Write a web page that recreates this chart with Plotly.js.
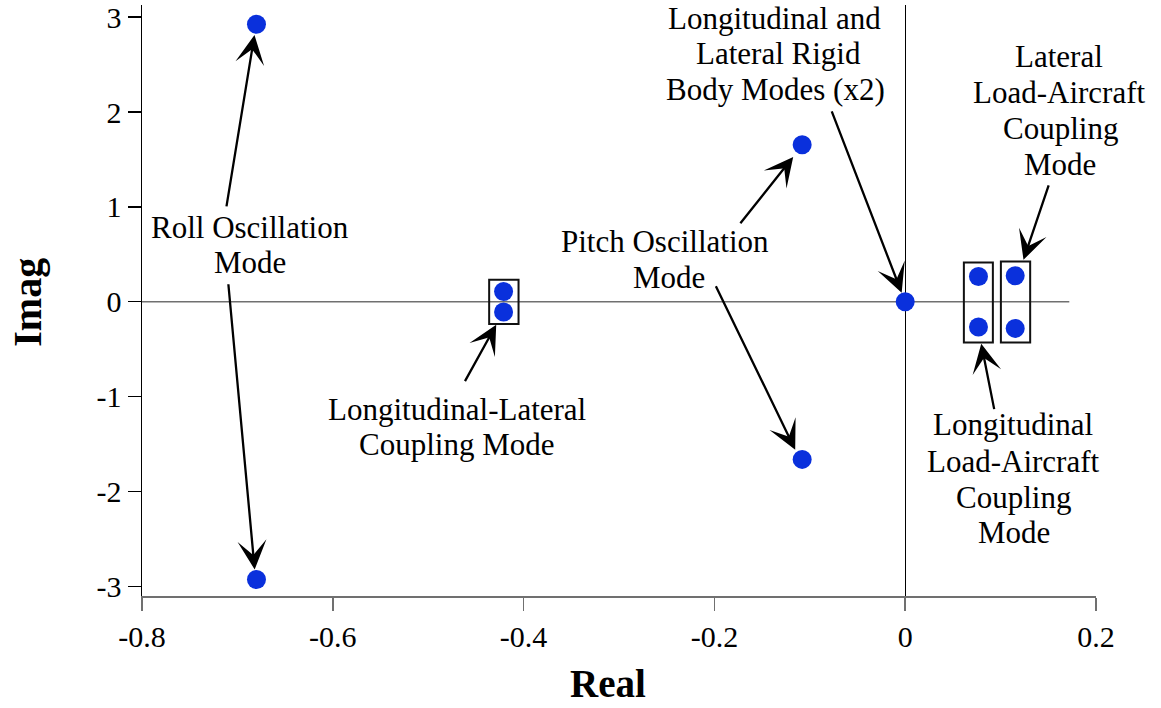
<!DOCTYPE html>
<html><head><meta charset="utf-8">
<script src="https://cdn.plot.ly/plotly-3.0.1.min.js"></script>
<style>html,body{margin:0;padding:0;background:#fff;}#chart{width:1161px;height:708px;}</style>
</head><body><div id="chart"></div>
<script>
// Poles (real, imag)
const realParts = [-0.680, -0.680, -0.421, -0.421, -0.108, -0.108, 0.0, 0.0768, 0.0768, 0.1153, 0.1153];
const imagParts = [2.925, -2.928, 0.108, -0.108, 1.655, -1.662, 0.0, 0.266, -0.267, 0.274, -0.281];

// Tick values / labels
const xTickVals = [-0.8, -0.6, -0.4, -0.2, 0, 0.2];
const xTickText = ['-0.8', '-0.6', '-0.4', '-0.2', '0', '0.2'];
const yTickVals = [-3, -2, -1, 0, 1, 2, 3];
const yTickText = ['-3', '-2', '-1', '0', '1', '2', '3'];

// Real-axis reference line extent
const realAxisLineX = [-0.8, 0.172];
const realAxisLineY = [0, 0];

// Mode grouping boxes
const boxX0 = [-0.4361, 0.0615, 0.1003];
const boxX1 = [-0.4053, 0.0919, 0.1310];
const boxY0 = [0.2317, 0.414, 0.4245];
const boxY1 = [-0.2349, -0.4287, -0.4287];

// Label lines
const labelText = ['Roll Oscillation', 'Mode',
  'Longitudinal-Lateral', 'Coupling Mode',
  'Pitch Oscillation', 'Mode',
  'Longitudinal and', 'Lateral Rigid', 'Body Modes (x2)',
  'Lateral', 'Load-Aircraft', 'Coupling', 'Mode',
  'Longitudinal', 'Load-Aircraft', 'Coupling', 'Mode'];
const labelX = [-0.6868, -0.6868,
  -0.4700, -0.4700,
  -0.2516, -0.2481,
  -0.1373, -0.1323, -0.1357,
  0.1614, 0.1622, 0.1625, 0.1625,
  0.1135, 0.1135, 0.1140, 0.1139];
const labelY = [0.785, 0.411,
  -1.137, -1.506,
  0.637, 0.258,
  2.991, 2.612, 2.233,
  2.586, 2.206, 1.827, 1.448,
  -1.295, -1.680, -2.059, -2.433];

// Arrows (tail -> tip)
const arrowTailX = [-0.7117, -0.7096, -0.4623, -0.1740, -0.1992, -0.0776, 0.1509, 0.0936];
const arrowTailY = [0.990, 0.200, -0.853, 0.811, 0.179, 2.022, 1.243, -1.148];
const arrowTipX = [-0.6821, -0.6819, -0.4287, -0.1174, -0.1153, -0.0037, 0.1240, 0.0797];
const arrowTipY = [2.812, -2.823, -0.242, 1.527, -1.559, 0.0948, 0.442, -0.442];

// Axis titles
const axisTitles = ['Real', 'Imag'];

const serif = 'Liberation Serif, Times New Roman, serif';
const xRange = [-0.8, 0.2];
const yRange = [-3.102, 3.128];

const traces = [
  {x: realAxisLineX, y: realAxisLineY, mode: 'lines', line: {color: '#707070', width: 1.5},
   hoverinfo: 'skip', showlegend: false},
  {x: realParts, y: imagParts, mode: 'markers', type: 'scatter',
   marker: {color: '#0a30dc', size: 19}, showlegend: false}
];

const shapes = boxX0.map((x0, i) => ({
  type: 'rect', xref: 'x', yref: 'y', x0: x0, x1: boxX1[i], y0: boxY0[i], y1: boxY1[i],
  line: {color: '#111', width: 2}, fillcolor: 'rgba(0,0,0,0)', layer: 'above'
}));

const annotations = [];
labelText.forEach((t, i) => annotations.push({
  text: t, x: labelX[i], y: labelY[i], xref: 'x', yref: 'y', showarrow: false,
  xanchor: 'center', yanchor: 'middle', font: {family: serif, size: 31, color: '#000'}
}));
arrowTipX.forEach((x, i) => annotations.push({
  text: '', x: x, y: arrowTipY[i], xref: 'x', yref: 'y',
  ax: arrowTailX[i], ay: arrowTailY[i], axref: 'x', ayref: 'y',
  showarrow: true, arrowhead: 3, arrowsize: 2.1, arrowwidth: 2.3, arrowcolor: '#000', standoff: 0
}));
annotations.push({
  text: '<b>' + axisTitles[0] + '</b>', xref: 'paper', yref: 'paper', x: 0.4885, y: -0.1479,
  xanchor: 'center', yanchor: 'middle', showarrow: false, borderpad: 0,
  font: {family: serif, size: 39, color: '#000'}
});
annotations.push({
  text: '<b>' + axisTitles[1] + '</b>', xref: 'paper', yref: 'paper', x: -0.1195, y: 0.4979,
  xanchor: 'center', yanchor: 'middle', textangle: -90, showarrow: false, borderpad: 0,
  font: {family: serif, size: 40, color: '#000'}
});

const layout = {
  width: 1161, height: 708,
  margin: {l: 142, r: 65, t: 5, b: 111.5},
  paper_bgcolor: '#fff', plot_bgcolor: '#fff',
  showlegend: false,
  font: {family: serif, color: '#000'},
  xaxis: {
    range: xRange, tickmode: 'array', tickvals: xTickVals, ticktext: xTickText,
    ticks: 'outside', ticklen: 13, tickwidth: 1.5, tickcolor: '#707070',
    showline: true, linecolor: '#707070', linewidth: 1.5,
    showgrid: false, zeroline: true, zerolinecolor: '#000', zerolinewidth: 1.2,
    tickfont: {family: serif, size: 30, color: '#000'}, ticklabelstandoff: 0
  },
  yaxis: {
    range: yRange, tickmode: 'array', tickvals: yTickVals, ticktext: yTickText,
    ticks: 'outside', ticklen: 13, tickwidth: 1.5, tickcolor: '#000',
    showline: true, linecolor: '#000', linewidth: 1.5,
    showgrid: false, zeroline: false,
    tickfont: {family: serif, size: 30, color: '#000'}, ticklabelstandoff: 0
  },
  xaxis2: {
    range: xRange, overlaying: 'x', anchor: 'y', side: 'bottom', tickmode: 'array', tickvals: xTickVals,
    ticks: 'inside', ticklen: 13, tickwidth: 1.5, tickcolor: '#707070',
    showticklabels: false, showgrid: false, zeroline: false, showline: false
  },
  yaxis2: {
    range: yRange, overlaying: 'y', anchor: 'x', side: 'left', tickmode: 'array', tickvals: yTickVals,
    ticks: 'inside', ticklen: 13, tickwidth: 1.5, tickcolor: '#000',
    showticklabels: false, showgrid: false, zeroline: false, showline: false
  },
  shapes: shapes,
  annotations: annotations
};

Plotly.newPlot('chart', traces, layout, {displayModeBar: false, staticPlot: true});
</script>
</body></html>
